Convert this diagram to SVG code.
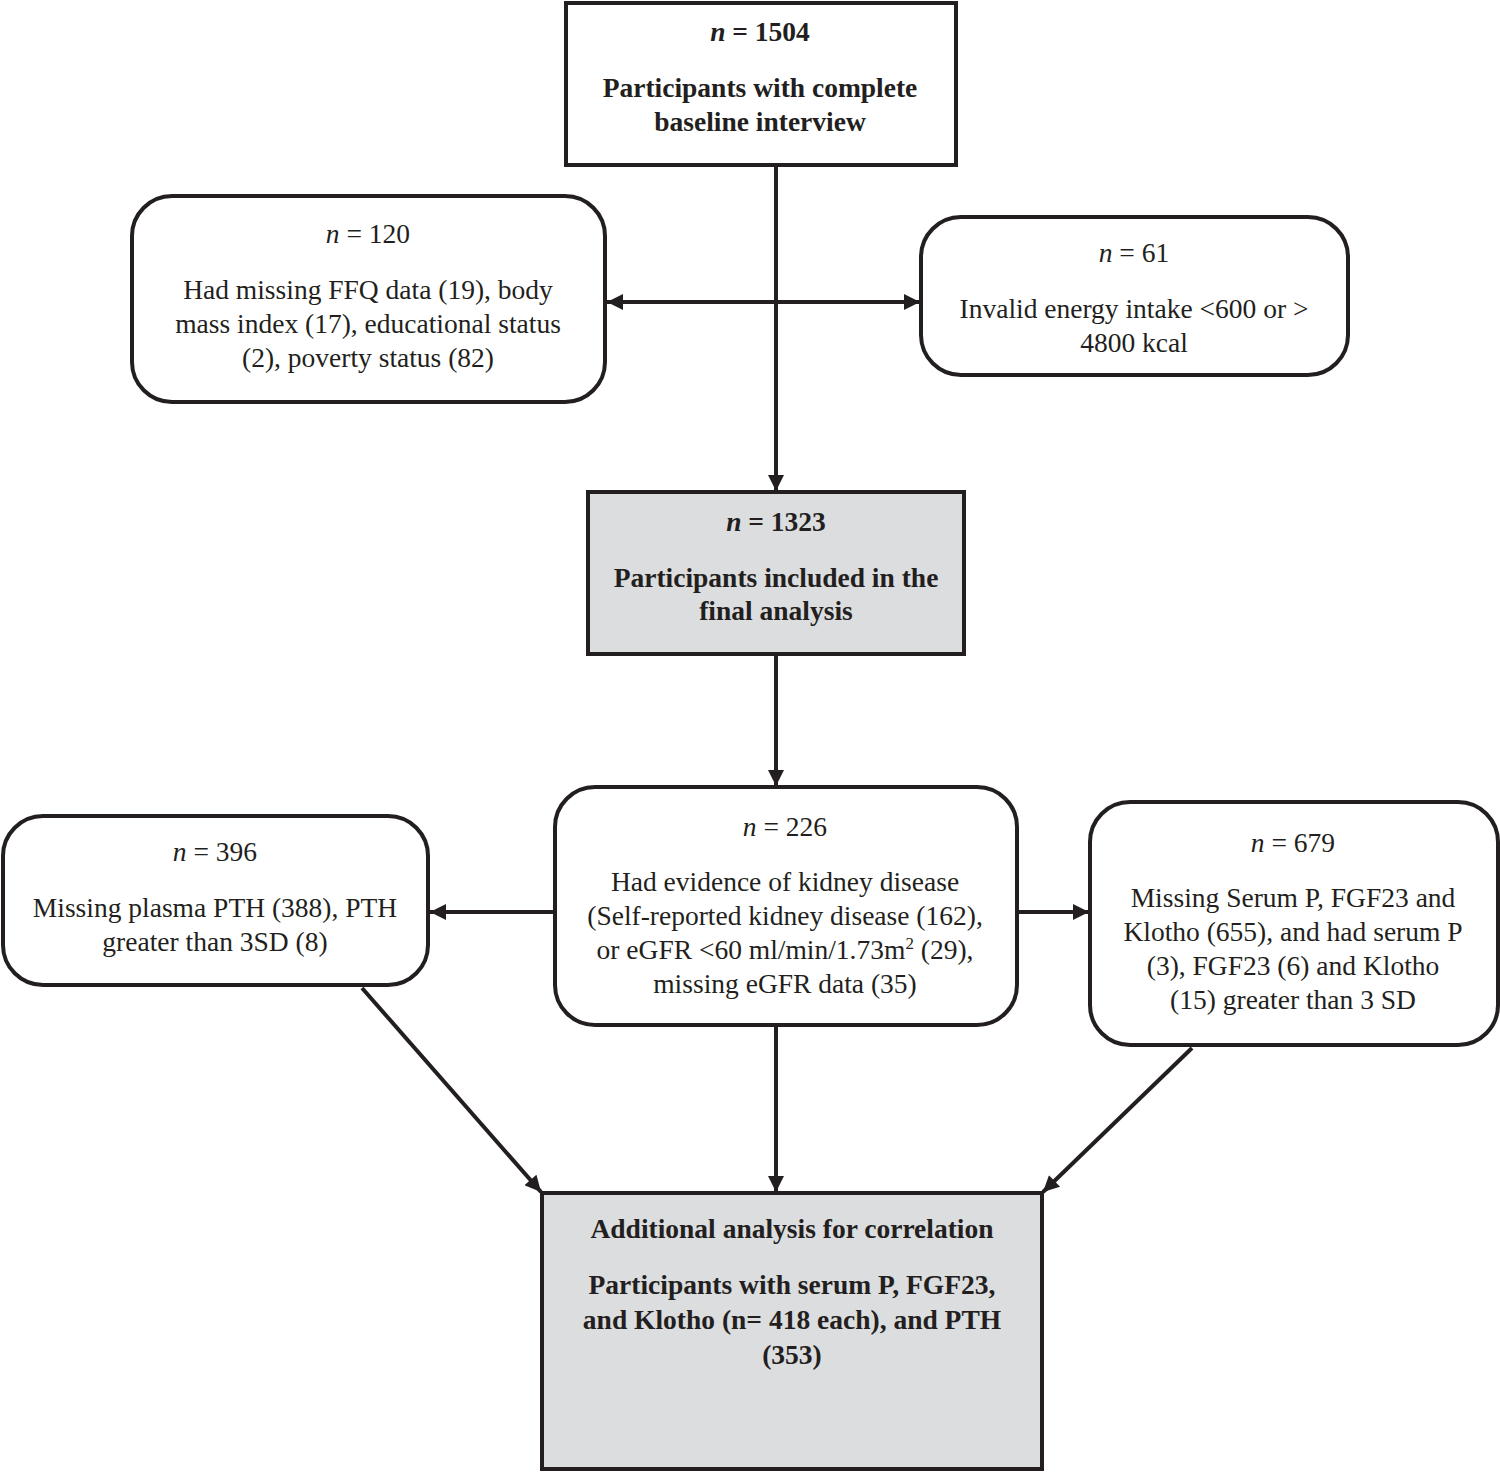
<svg xmlns="http://www.w3.org/2000/svg" width="1500" height="1472" viewBox="0 0 1500 1472">
<style>
.box{fill:#fff;stroke:#231f20;stroke-width:4}
.gray{fill:#dcdddf;stroke:#231f20;stroke-width:4}
.conn{stroke:#231f20;stroke-width:4;fill:none}
text{font-family:"Liberation Serif","Times New Roman",serif;font-size:27.5px;fill:#231f20;text-anchor:middle}
.b{font-weight:bold}
.i{font-style:italic}
</style>
<defs>
<marker id="ah" viewBox="0 0 10 10" refX="10" refY="5" markerWidth="5" markerHeight="4" markerUnits="strokeWidth" orient="auto">
<path d="M0,0 L10,5 L0,10 z" fill="#231f20"/>
</marker>
</defs>
<g id="connectors">
<line class="conn" x1="776" y1="165" x2="776" y2="491" marker-end="url(#ah)"/>
<line class="conn" x1="776" y1="302" x2="607" y2="302" marker-end="url(#ah)"/>
<line class="conn" x1="776" y1="302" x2="920" y2="302" marker-end="url(#ah)"/>
<line class="conn" x1="776" y1="654" x2="776" y2="786" marker-end="url(#ah)"/>
<line class="conn" x1="554" y1="912" x2="430" y2="912" marker-end="url(#ah)"/>
<line class="conn" x1="1017" y1="912" x2="1089" y2="912" marker-end="url(#ah)"/>
<line class="conn" x1="776" y1="1025" x2="776" y2="1192" marker-end="url(#ah)"/>
<line class="conn" x1="362" y1="988" x2="541" y2="1192" marker-end="url(#ah)"/>
<line class="conn" x1="1192" y1="1048" x2="1043" y2="1192" marker-end="url(#ah)"/>
</g>
<g id="node-1504">
<rect class="box" x="566" y="3" width="390" height="162"/>
<text class="b" x="760" y="41"><tspan class="i">n</tspan> = 1504</text>
<text class="b" x="760" y="97">Participants with complete</text>
<text class="b" x="760" y="131">baseline interview</text>
</g>
<g id="node-120">
<rect class="box" x="132" y="196" width="473" height="206" rx="40"/>
<text x="368" y="243"><tspan class="i">n</tspan> = 120</text>
<text x="368" y="299">Had missing FFQ data (19), body</text>
<text x="368" y="333">mass index (17), educational status</text>
<text x="368" y="367">(2), poverty status (82)</text>
</g>
<g id="node-61">
<rect class="box" x="921" y="217" width="427" height="158" rx="40"/>
<text x="1134" y="262"><tspan class="i">n</tspan> = 61</text>
<text x="1134" y="318">Invalid energy intake &lt;600 or &gt;</text>
<text x="1134" y="352">4800 kcal</text>
</g>
<g id="node-1323">
<rect class="gray" x="588" y="492" width="376" height="162"/>
<text class="b" x="776" y="531"><tspan class="i">n</tspan> = 1323</text>
<text class="b" x="776" y="587">Participants included in the</text>
<text class="b" x="776" y="620">final analysis</text>
</g>
<g id="node-226">
<rect class="box" x="555" y="787" width="462" height="238" rx="40"/>
<text x="785" y="836"><tspan class="i">n</tspan> = 226</text>
<text x="785" y="891">Had evidence of kidney disease</text>
<text x="785" y="925">(Self-reported kidney disease (162),</text>
<text x="785" y="959">or eGFR &lt;60 ml/min/1.73m<tspan dy="-10" font-size="17">2</tspan><tspan dy="10"> (29),</tspan></text>
<text x="785" y="993">missing eGFR data (35)</text>
</g>
<g id="node-396">
<rect class="box" x="3" y="816" width="425" height="169" rx="40"/>
<text x="215" y="861"><tspan class="i">n</tspan> = 396</text>
<text x="215" y="917">Missing plasma PTH (388), PTH</text>
<text x="215" y="951">greater than 3SD (8)</text>
</g>
<g id="node-679">
<rect class="box" x="1090" y="802" width="408" height="243" rx="40"/>
<text x="1293" y="852"><tspan class="i">n</tspan> = 679</text>
<text x="1293" y="907">Missing Serum P, FGF23 and</text>
<text x="1293" y="941">Klotho (655), and had serum P</text>
<text x="1293" y="975">(3), FGF23 (6) and Klotho</text>
<text x="1293" y="1009">(15) greater than 3 SD</text>
</g>
<g id="node-final">
<rect class="gray" x="542" y="1193" width="500" height="276"/>
<text class="b" x="792" y="1238">Additional analysis for correlation</text>
<text class="b" x="792" y="1294">Participants with serum P, FGF23,</text>
<text class="b" x="792" y="1329">and Klotho (n= 418 each), and PTH</text>
<text class="b" x="792" y="1364">(353)</text>
</g>
</svg>
